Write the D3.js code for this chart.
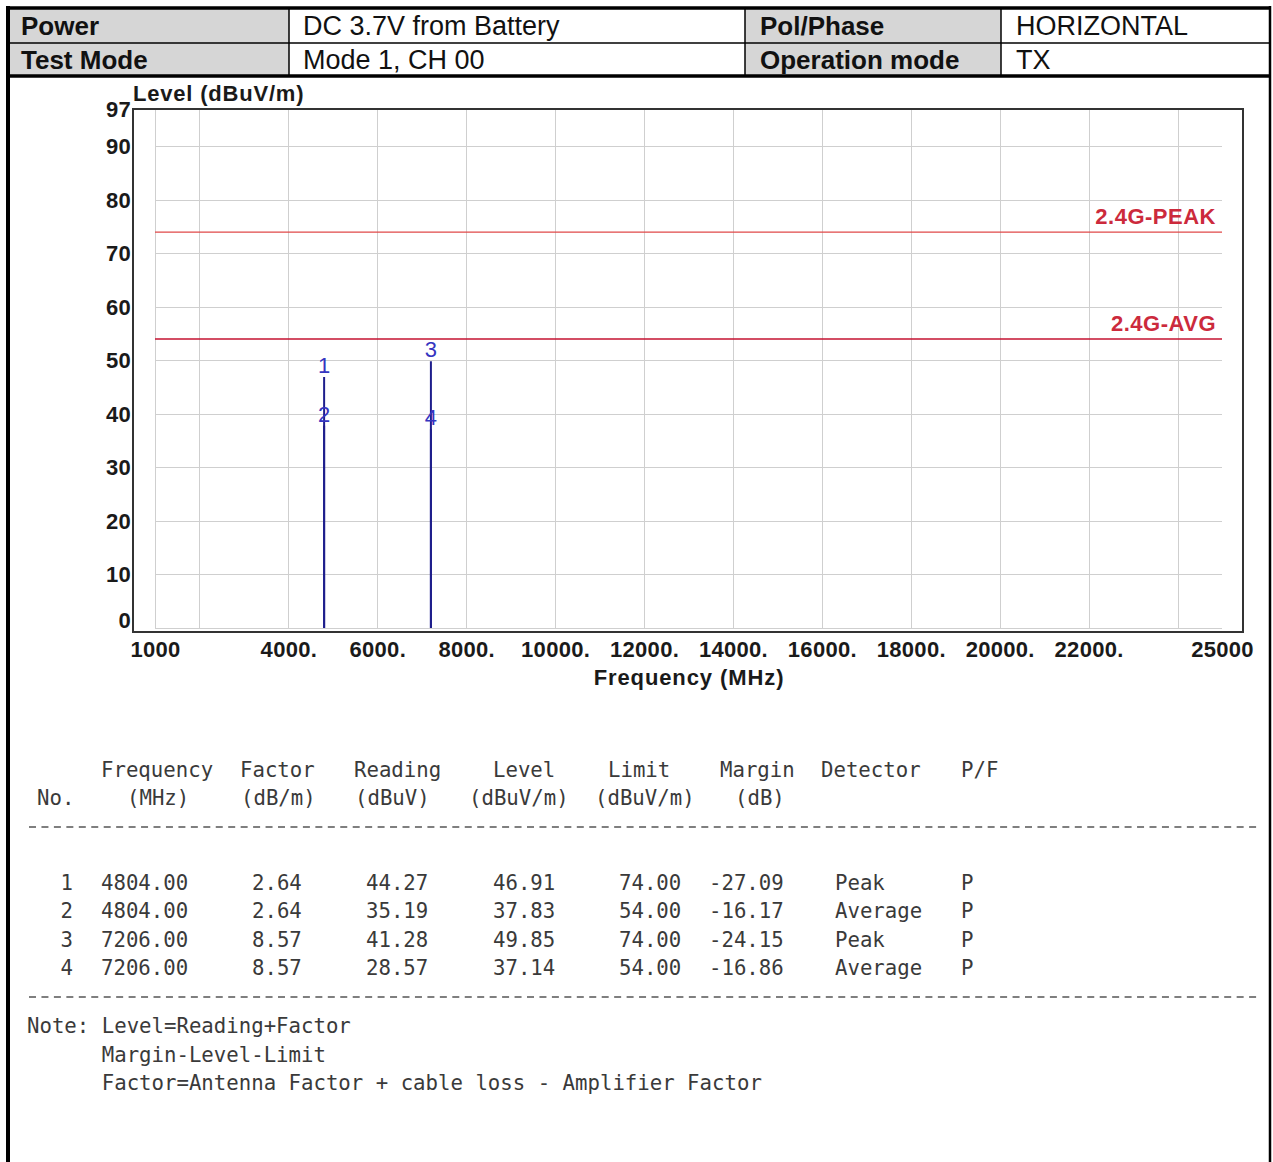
<!DOCTYPE html>
<html lang="en">
<head>
<meta charset="UTF-8">
<script src="https://d3js.org/d3.v7.min.js"></script>
<style>
    body {
        margin: 0;
        background: #fff;
    }

    svg text {
        font-family: "Liberation Sans", Arial, sans-serif;
    }

    .mono {
        font-family: "DejaVu Sans Mono", monospace !important;
        font-size: 20.7px;
        fill: #3a3a3a;
    }

    .grid line {
        stroke: #cfcfcf;
        stroke-width: 1;
        shape-rendering: crispEdges;
    }
</style>
</head>
<body>
<svg id="canvas" width="1273" height="1162"></svg>
<script>
    // header info
    const headerLabels = [["Power", "DC 3.7V from Battery", "Pol/Phase", "HORIZONTAL"],
                          ["Test Mode", "Mode 1, CH 00", "Operation mode", "TX"]];

    // axes
    const yTicks = [0, 10, 20, 30, 40, 50, 60, 70, 80, 90, 97];
    const yGrid = [0, 10, 20, 30, 40, 50, 60, 70, 80, 90];
    const xTickValues = [1000, 4000, 6000, 8000, 10000, 12000, 14000, 16000, 18000, 20000, 22000, 25000];
    const xTickLabels = ["1000", "4000.", "6000.", "8000.", "10000.", "12000.", "14000.", "16000.", "18000.", "20000.", "22000.", "25000"];
    const xGrid = [1000, 2000, 4000, 6000, 8000, 10000, 12000, 14000, 16000, 18000, 20000, 22000, 24000];

    // limit lines
    const limitNames = ["2.4G-PEAK", "2.4G-AVG"];
    const limitValues = [74, 54];

    // measured points
    const markerNo = [1, 2, 3, 4];
    const markerFreq = [4804.00, 4804.00, 7206.00, 7206.00];
    const markerFactor = [2.64, 2.64, 8.57, 8.57];
    const markerReading = [44.27, 35.19, 41.28, 28.57];
    const markerLevel = [46.91, 37.83, 49.85, 37.14];
    const markerLimit = [74.00, 54.00, 74.00, 54.00];
    const markerMargin = [-27.09, -16.17, -24.15, -16.86];
    const markerDetector = ["Peak", "Average", "Peak", "Average"];
    const markerPF = ["P", "P", "P", "P"];

    // table headings
    const colHead1 = ["Frequency", "Factor", "Reading", "Level", "Limit", "Margin", "Detector", "P/F"];
    const colHead2 = ["No.", "(MHz)", "(dB/m)", "(dBuV)", "(dBuV/m)", "(dBuV/m)", "(dB)"];
    const noteLines = ["Note: Level=Reading+Factor", "      Margin-Level-Limit", "      Factor=Antenna Factor + cable loss - Amplifier Factor"];

    let svg = d3.select("#canvas");

    // ---------- header table ----------
    let head = svg.append("g");
    head.selectAll("rect.grey")
        .data([[8, 289], [745, 1001]])
        .join("rect")
        .attr("x", d => d[0]).attr("y", 8)
        .attr("width", d => d[1] - d[0]).attr("height", 69)
        .attr("fill", "#d6d6d6");

    [289, 745, 1001].forEach(xx => {
        head.append("line").attr("x1", xx).attr("x2", xx).attr("y1", 8).attr("y2", 77)
            .attr("stroke", "#000").attr("stroke-width", 1.5);
    });
    head.append("line").attr("x1", 8).attr("x2", 1270).attr("y1", 43).attr("y2", 43)
        .attr("stroke", "#000").attr("stroke-width", 1.5);
    head.append("line").attr("x1", 6).attr("x2", 1271).attr("y1", 8).attr("y2", 8)
        .attr("stroke", "#000").attr("stroke-width", 3.5);
    head.append("line").attr("x1", 6).attr("x2", 1271).attr("y1", 76).attr("y2", 76)
        .attr("stroke", "#000").attr("stroke-width", 3.5);
    // page borders
    svg.append("line").attr("x1", 8).attr("x2", 8).attr("y1", 6).attr("y2", 1162)
        .attr("stroke", "#000").attr("stroke-width", 4);
    svg.append("line").attr("x1", 1270).attr("x2", 1270).attr("y1", 6).attr("y2", 1162)
        .attr("stroke", "#000").attr("stroke-width", 2.5);

    let cellX = [21, 303, 760, 1016];
    headerLabels.forEach((row, r) => {
        row.forEach((txt, c) => {
            head.append("text")
                .attr("x", cellX[c])
                .attr("y", 35 + r * 34)
                .attr("font-size", c % 2 == 0 ? 26 : 27)
                .attr("font-weight", c % 2 == 0 ? "bold" : "normal")
                .attr("fill", "#111")
                .text(txt);
        });
    });

    // ---------- chart ----------
    const xScale = d3.scaleLinear().domain([1000, 25000]).range([155, 1222]);
    const yScale = d3.scaleLinear().domain([0, 97]).range([628, 109]);

    let chart = svg.append("g");

    chart.append("g").attr("class", "grid")
        .selectAll("line")
        .data(yGrid)
        .join("line")
        .attr("x1", xScale(1000)).attr("x2", xScale(25000))
        .attr("y1", d => Math.round(yScale(d)) + 0.5).attr("y2", d => Math.round(yScale(d)) + 0.5);

    chart.append("g").attr("class", "grid")
        .selectAll("line")
        .data(xGrid)
        .join("line")
        .attr("x1", d => Math.round(xScale(d)) + 0.5).attr("x2", d => Math.round(xScale(d)) + 0.5)
        .attr("y1", yScale(97)).attr("y2", yScale(0));

    // limits
    const limitColors = ["#e04848", "#c41230"];
    let limits = chart.selectAll(".limit")
        .data(limitValues)
        .join("g")
        .attr("class", "limit");
    limits.append("line")
        .attr("x1", xScale(1000)).attr("x2", xScale(25000))
        .attr("y1", d => yScale(d)).attr("y2", d => yScale(d))
        .attr("stroke", (d, i) => limitColors[i])
        .attr("stroke-width", (d, i) => i == 0 ? 1.2 : 1.6);
    limits.append("text")
        .attr("x", 1216)
        .attr("y", d => yScale(d) - 8)
        .attr("text-anchor", "end")
        .attr("font-size", 22)
        .attr("font-weight", "bold")
        .attr("letter-spacing", 0.5)
        .attr("fill", "#cc2a3c")
        .text((d, i) => limitNames[i]);

    // markers
    let marks = chart.selectAll(".marker")
        .data(markerNo)
        .join("g")
        .attr("class", "marker");
    marks.append("line")
        .attr("x1", (d, i) => xScale(markerFreq[i])).attr("x2", (d, i) => xScale(markerFreq[i]))
        .attr("y1", yScale(0)).attr("y2", (d, i) => yScale(markerLevel[i]))
        .attr("stroke", "#1e1e8c")
        .attr("stroke-width", 2);
    marks.append("text")
        .attr("x", (d, i) => xScale(markerFreq[i]))
        .attr("y", (d, i) => yScale(markerLevel[i]) - 4)
        .attr("text-anchor", "middle")
        .attr("font-size", 22)
        .attr("fill", "#3535c0")
        .text(d => d);

    // frame
    chart.append("rect")
        .attr("x", 133).attr("y", 109)
        .attr("width", 1110).attr("height", 523)
        .attr("fill", "none")
        .attr("stroke", "#333")
        .attr("stroke-width", 2);

    // axes (labels only)
    let yAxis = chart.append("g")
        .attr("transform", "translate(131,0)")
        .call(d3.axisLeft(yScale).tickValues(yTicks).tickSize(0).tickPadding(0));
    let xAxis = chart.append("g")
        .attr("transform", "translate(0,641)")
        .call(d3.axisBottom(xScale).tickValues(xTickValues).tickSize(0).tickPadding(0)
            .tickFormat((d, i) => xTickLabels[i]));
    [yAxis, xAxis].forEach(ax => {
        ax.select(".domain").remove();
        ax.selectAll("text")
            .attr("font-family", "'Liberation Sans', Arial, sans-serif")
            .attr("font-size", 22)
            .attr("font-weight", "bold")
            .attr("letter-spacing", 0.3)
            .attr("fill", "#1a1a1a");
    });
    yAxis.selectAll("text").filter(d => d == 0).attr("y", -8);

    chart.append("text")
        .attr("x", 133).attr("y", 101)
        .attr("font-size", 22).attr("font-weight", "bold").attr("letter-spacing", 0.8)
        .attr("fill", "#1a1a1a")
        .text("Level (dBuV/m)");
    chart.append("text")
        .attr("x", 689).attr("y", 685)
        .attr("text-anchor", "middle")
        .attr("font-size", 22).attr("font-weight", "bold").attr("letter-spacing", 0.9)
        .attr("fill", "#1a1a1a")
        .text("Frequency (MHz)");

    // ---------- results table ----------
    let tbl = svg.append("g");
    const head1X = [101, 240, 354, 493, 608, 720, 821, 961];
    const head2X = [37, 127, 241, 355, 469, 595, 735];
    tbl.selectAll(".h1").data(colHead1).join("text")
        .attr("class", "mono").attr("x", (d, i) => head1X[i]).attr("y", 777)
        .text(d => d);
    tbl.selectAll(".h2").data(colHead2).join("text")
        .attr("class", "mono").attr("x", (d, i) => head2X[i]).attr("y", 805)
        .text(d => d);

    [827, 997].forEach(yy => {
        tbl.append("line").attr("x1", 29).attr("x2", 1260).attr("y1", yy).attr("y2", yy)
            .attr("stroke", "#555").attr("stroke-width", 1.3)
            .attr("stroke-dasharray", "7 5.45");
    });

    const rowY = i => 890 + i * 28.4;
    const cols = [
        { x: 73, anchor: "end", v: i => String(markerNo[i]) },
        { x: 101, anchor: "start", v: i => markerFreq[i].toFixed(2) },
        { x: 252, anchor: "start", v: i => markerFactor[i].toFixed(2) },
        { x: 366, anchor: "start", v: i => markerReading[i].toFixed(2) },
        { x: 493, anchor: "start", v: i => markerLevel[i].toFixed(2) },
        { x: 619, anchor: "start", v: i => markerLimit[i].toFixed(2) },
        { x: 709, anchor: "start", v: i => markerMargin[i].toFixed(2) },
        { x: 835, anchor: "start", v: i => markerDetector[i] },
        { x: 961, anchor: "start", v: i => markerPF[i] }
    ];
    markerNo.forEach((n, i) => {
        cols.forEach(c => {
            tbl.append("text")
                .attr("class", "mono")
                .attr("x", c.x).attr("y", rowY(i))
                .attr("text-anchor", c.anchor)
                .text(c.v(i));
        });
    });

    tbl.selectAll(".note").data(noteLines).join("text")
        .attr("class", "mono")
        .attr("x", 27)
        .attr("y", (d, i) => 1033 + i * 28.5)
        .style("white-space", "pre")
        .text(d => d);
</script>
</body>
</html>
